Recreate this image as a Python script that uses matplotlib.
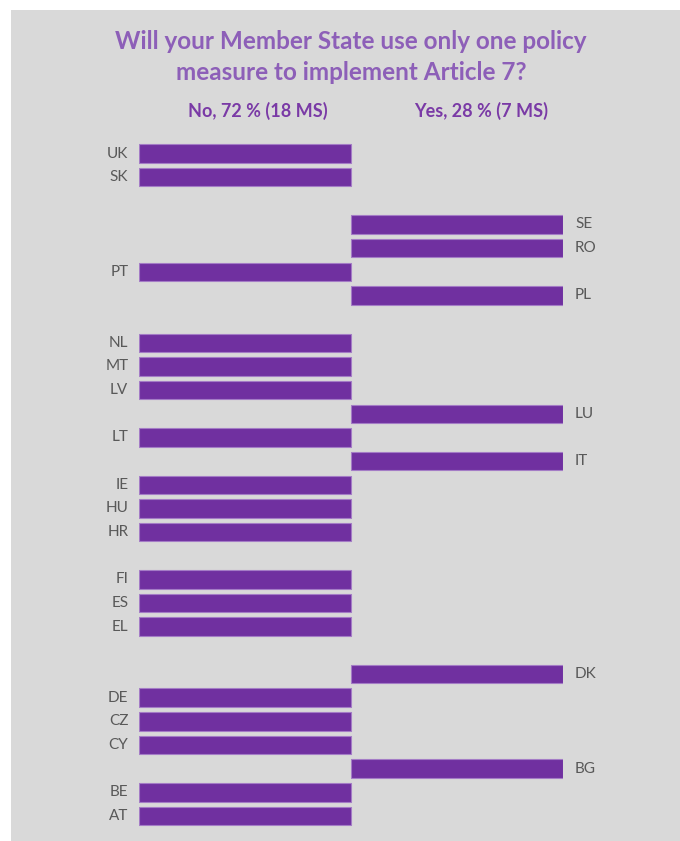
import matplotlib
matplotlib.use("Agg")
import matplotlib.pyplot as plt
from matplotlib.patches import Rectangle
from matplotlib import transforms

# Data
countries = ["UK", "SK", "", "SE", "RO", "PT", "PL", "", "NL", "MT", "LV", "LU", "LT",
             "IT", "IE", "HU", "HR", "", "FI", "ES", "EL", "", "DK", "DE", "CZ", "CY",
             "BG", "BE", "AT"]
# -1 = No, 1 = Yes, 0 = no entry
answers = [-1, -1, 0, 1, 1, -1, 1, 0, -1, -1, -1, 1, -1,
           1, -1, -1, -1, 0, -1, -1, -1, 0, 1, -1, -1, -1,
           1, -1, -1]
title = "Will your Member State use only one policy\nmeasure to implement Article 7?"
header_no = "No, 72 % (18 MS)"
header_yes = "Yes, 28 % (7 MS)"

W, H = 680, 841
fig = plt.figure(figsize=(W / 100, H / 100), dpi=100)
fig.patch.set_facecolor("white")

# gray panel
fig.patches.append(Rectangle((11 / W, 0), (W - 11) / W, (H - 9.5) / H,
                             transform=fig.transFigure, facecolor="#d9d9d9",
                             edgecolor="none", zorder=-10))

n = len(countries)
x0, x1 = 139.3, 563.0
row0, rowN = 153.5, 816.0
step = (rowN - row0) / (n - 1)
top = row0 - step / 2
bot = rowN + step / 2
ax = fig.add_axes([x0 / W, 1 - bot / H, (x1 - x0) / W, (bot - top) / H])
ax.set_zorder(5)
ax.set_facecolor("none")
ax.patch.set_alpha(0)
ax.set_xlim(-1, 1)
ax.set_ylim(n - 0.5, -0.5)
ax.axis("off")

ys = list(range(n))
lws = [0.8 if a != 0 else 0 for a in answers]
ax.barh(ys, answers, left=0, height=0.78, color="#7030a0",
        edgecolor="#a47cc6", linewidth=lws)

label_kw = dict(color="#595959", fontsize=11, family=["Lato", "DejaVu Sans"], va="center")
for y, c, a in zip(ys, countries, answers):
    if a < 0:
        off = transforms.offset_copy(ax.transData, fig=fig, x=-11, y=0, units="dots")
        ax.text(a, y, c, ha="right", transform=off, clip_on=False, **label_kw)
    elif a > 0:
        off = transforms.offset_copy(ax.transData, fig=fig, x=12, y=0, units="dots")
        ax.text(a, y, c, ha="left", transform=off, clip_on=False, **label_kw)

fig.text(351 / W, 1 - 57 / H, title, ha="center", va="center", color="#8d5fb8",
         fontsize=17.5, fontweight="bold", family=["Lato", "DejaVu Sans"],
         linespacing=1.45, zorder=6)
fig.text(258 / W, 1 - 111 / H, header_no, ha="center", va="center", color="#7a3aa6",
         fontsize=13, fontweight="bold", family=["Lato", "DejaVu Sans"], zorder=6)
fig.text(481 / W, 1 - 111 / H, header_yes, ha="center", va="center", color="#7a3aa6",
         fontsize=13, fontweight="bold", family=["Lato", "DejaVu Sans"], zorder=6)

fig.savefig("out.png", dpi=100, facecolor=fig.get_facecolor())
